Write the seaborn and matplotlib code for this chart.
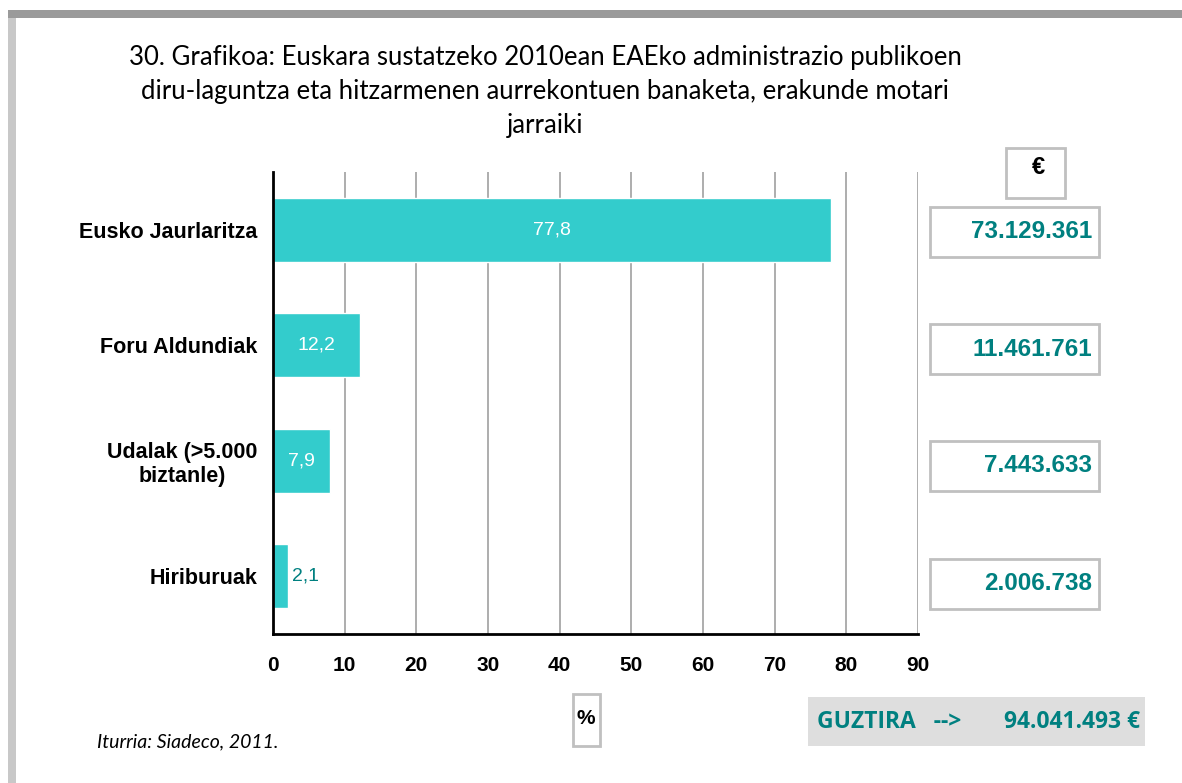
import numpy as np
import pandas as pd
import seaborn as sns
import matplotlib.pyplot as plt
from matplotlib.patches import Rectangle

# data
erakundeak = ["Eusko Jaurlaritza", "Foru Aldundiak", "Udalak (>5.000\nbiztanle)", "Hiriburuak"]
ehunekoak = [77.8, 12.2, 7.9, 2.1]
euroak = ["73.129.361", "11.461.761", "7.443.633", "2.006.738"]
guztira = "94.041.493"
x_ticks = [0, 10, 20, 30, 40, 50, 60, 70, 80, 90]

df = pd.DataFrame({"erakundea": erakundeak, "ehunekoa": ehunekoak})

teal = "#008080"
bar_color = "#33CCCC"

sns.set_style("white")
plt.rcParams["font.family"] = ["Liberation Sans", "DejaVu Sans"]
plt.rcParams["text.color"] = "black"
plt.rcParams["xtick.color"] = "black"
plt.rcParams["ytick.color"] = "black"

W, H = 1182, 783
fig = plt.figure(figsize=(W / 100, H / 100), dpi=100)
ax = fig.add_axes([273 / W, 1 - 634 / H, (918 - 273) / W, (634 - 172) / H])

sns.barplot(data=df, x="ehunekoa", y="erakundea", orient="h", color=bar_color,
            width=0.55, saturation=1, ax=ax)

ax.set_xlim(0, 90)
ax.set_ylim(3.5, -0.5)
ax.set_xticks(x_ticks)
ax.set_xticklabels([str(t) for t in x_ticks], fontsize=15, fontweight="bold")
ax.xaxis.grid(True, color="#a0a0a0", lw=1.2)
ax.set_axisbelow(True)
ax.tick_params(axis="x", length=6, width=1.5, direction="out", pad=10)

# category ticks at boundaries, labels at centres
ax.set_yticks(np.arange(-0.5, 4, 1))
ax.set_yticklabels([])
ax.set_yticks(range(len(erakundeak)), minor=True)
ax.set_yticklabels(erakundeak, minor=True, fontsize=15.5, fontweight="bold",
                   multialignment="center")
ax.tick_params(axis="y", which="major", length=6, width=1.5, direction="out")
ax.tick_params(axis="y", which="minor", length=0, pad=11.5)
ax.set_xlabel("")
ax.set_ylabel("")

for s in ["top", "right"]:
    ax.spines[s].set_visible(False)
for s in ["left", "bottom"]:
    ax.spines[s].set_color("black")
    ax.spines[s].set_linewidth(2)

for i, v in enumerate(ehunekoak):
    txt = f"{v:.1f}".replace(".", ",")
    if v > 5:
        ax.text(v / 2, i, txt, ha="center", va="center", color="white", fontsize=14)
    else:
        ax.text(v + 0.6, i, txt, ha="left", va="center", color=teal, fontsize=14)

# page frame
fig.patches.append(Rectangle((8 / W, 1 - 18 / H), 1 - 8 / W, 8 / H, transform=fig.transFigure,
                             facecolor="#9a9a9a", edgecolor="none"))
fig.patches.append(Rectangle((8 / W, 0), 8 / W, 1 - 18 / H, transform=fig.transFigure,
                             facecolor="#c8c8c8", edgecolor="none"))

# title
fig.text(545 / W, 1 - 92 / H,
         "30. Grafikoa: Euskara sustatzeko 2010ean EAEko administrazio publikoen\n"
         "diru-laguntza eta hitzarmenen aurrekontuen banaketa, erakunde motari\njarraiki",
         ha="center", va="center", fontsize=18.5, family=["Lato", "DejaVu Sans"],
         linespacing=1.45)

def box(x0, y0, x1, y1, fc="white", ec="#c0c0c0"):
    fig.patches.append(Rectangle((x0 / W, 1 - y1 / H), (x1 - x0) / W, (y1 - y0) / H,
                                 transform=fig.transFigure, facecolor=fc, edgecolor=ec, lw=2))

# euro column
box(1006, 148, 1065, 198)
fig.text(1038 / W, 1 - 167 / H, "€", ha="center", va="center", fontsize=17, fontweight="bold")
ys = [232, 349, 466, 584]
for y, e in zip(ys, euroak):
    box(930, y - 25, 1099, y + 25)
    fig.text(1092 / W, 1 - y / H, e, ha="right", va="center", fontsize=17.5,
             fontweight="bold", color=teal)

# percent box
box(573, 694, 600, 746)
fig.text(586 / W, 1 - 718 / H, "%", ha="center", va="center", fontsize=15, fontweight="bold")

# total
box(808, 697, 1145, 746, fc="#dedede", ec="none")
fig.text(817 / W, 1 - 722 / H, "GUZTIRA   -->", ha="left", va="center", fontsize=16.5,
         fontweight="bold", color=teal, family=["Open Sans", "DejaVu Sans"])
fig.text(1140 / W, 1 - 722 / H, guztira + " €", ha="right", va="center", fontsize=16.5,
         fontweight="bold", color=teal, family=["Open Sans", "DejaVu Sans"])

# source
fig.text(97 / W, 1 - 742 / H, "Iturria: Siadeco, 2011.", ha="left", va="center",
         fontsize=14, style="italic", family=["Lato", "DejaVu Sans"])

fig.savefig("out.png", dpi=100)
